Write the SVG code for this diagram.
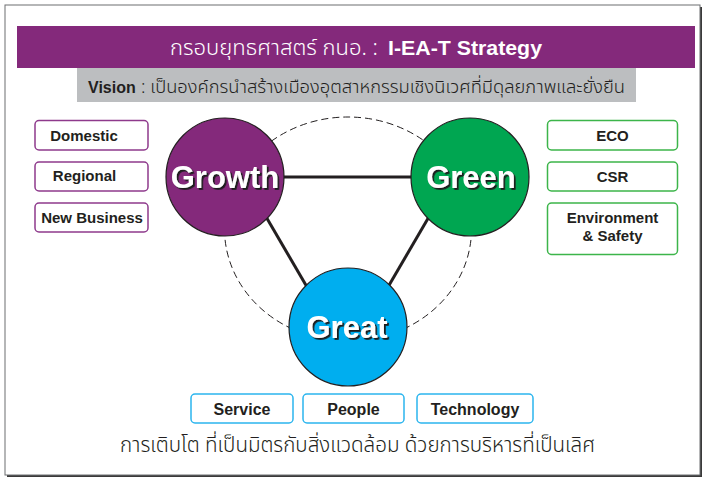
<svg xmlns="http://www.w3.org/2000/svg" width="705" height="483" viewBox="0 0 705 483">
  <style>
    .frame { fill: #ffffff; stroke: #6d6e71; stroke-width: 1; }
    .lbl { font-family: "Liberation Sans", Arial, sans-serif; font-weight: bold; font-size: 15px; fill: #231f20; text-anchor: middle; }
    .lbl16 { font-size: 16px; }
    .thai { font-family: "Noto Sans Thai", "Noto Sans", "DejaVu Sans", sans-serif; font-weight: 350; }
    .box-p { fill: #ffffff; stroke: #8e3a8c; stroke-width: 1.5; }
    .box-g { fill: #ffffff; stroke: #3cb54a; stroke-width: 1.5; }
    .box-b { fill: #ffffff; stroke: #2bb5ee; stroke-width: 1.5; }
    .hub { stroke: #231f20; stroke-width: 1.2; }
    .hubtxt { font-family: "Liberation Sans", Arial, sans-serif; font-weight: bold; font-size: 31px; fill: #ffffff; text-anchor: middle; filter: url(#shadow); }
    .link { stroke: #231f20; stroke-width: 3; fill: none; }
    .orbit { stroke: #231f20; stroke-width: 1; stroke-dasharray: 7 4; fill: none; }
  </style>
  <defs>
    <filter id="shadow" x="-10%" y="-20%" width="130%" height="150%">
      <feDropShadow dx="1.8" dy="1.8" stdDeviation="0.4" flood-color="#1a1a1a" flood-opacity="1"/>
    </filter>
  </defs>

  <!-- page frame with drop shadow on the bottom and right -->
  <rect x="7" y="7" width="695" height="470" fill="#3a3a3a"/>
  <rect class="frame" x="5" y="5" width="695" height="470"/>

  <!-- title banner -->
  <g id="title">
    <rect x="17" y="26" width="678" height="42" fill="#84297b"/>
    <text class="thai" x="170" y="55" font-size="21" fill="#ffffff" textLength="208" lengthAdjust="spacingAndGlyphs">กรอบยุทธศาสตร์ กนอ. :</text>
    <text x="388" y="55" font-family="Liberation Sans, Arial, sans-serif" font-weight="bold" font-size="20" fill="#ffffff" textLength="154" lengthAdjust="spacingAndGlyphs">I-EA-T Strategy</text>
  </g>

  <!-- vision bar -->
  <g id="vision">
    <rect x="77" y="68" width="559" height="34" fill="#bcbec0"/>
    <text x="88" y="93" font-family="Liberation Sans, Arial, sans-serif" font-weight="bold" font-size="16" fill="#231f20">Vision</text>
    <text class="thai" x="141" y="93" font-size="18" fill="#231f20" textLength="484" lengthAdjust="spacingAndGlyphs">: เป็นองค์กรนำสร้างเมืองอุตสาหกรรมเชิงนิเวศที่มีดุลยภาพและยั่งยืน</text>
  </g>

  <!-- connectors -->
  <g id="connectors">
    <ellipse class="orbit" cx="348" cy="229" rx="123.5" ry="112"/>
    <line class="link" x1="280" y1="177" x2="415" y2="177"/>
    <line class="link" x1="265" y1="215" x2="307" y2="287"/>
    <line class="link" x1="430" y1="215" x2="388" y2="287"/>
  </g>

  <!-- hubs -->
  <g id="growth">
    <circle class="hub" cx="225" cy="177" r="59" fill="#84297b"/>
    <text class="hubtxt" x="225" y="188">Growth</text>
  </g>
  <g id="green">
    <circle class="hub" cx="470" cy="177" r="59" fill="#00a651"/>
    <text class="hubtxt" x="471" y="188">Green</text>
  </g>
  <g id="great">
    <circle class="hub" cx="348" cy="327" r="59" fill="#00aeef"/>
    <text class="hubtxt" x="347" y="338">Great</text>
  </g>

  <!-- growth areas -->
  <g id="domestic">
    <rect class="box-p" x="35" y="120.5" width="113" height="29.5" rx="4"/>
    <text class="lbl" x="84" y="141">Domestic</text>
  </g>
  <g id="regional">
    <rect class="box-p" x="35" y="162" width="113" height="29" rx="4"/>
    <text class="lbl" x="84.5" y="181">Regional</text>
  </g>
  <g id="new-business">
    <rect class="box-p" x="35" y="203" width="113" height="29" rx="4"/>
    <text class="lbl" x="92" y="223">New Business</text>
  </g>

  <!-- green areas -->
  <g id="eco">
    <rect class="box-g" x="547.5" y="120.5" width="130" height="29.5" rx="4"/>
    <text class="lbl" x="612.5" y="141">ECO</text>
  </g>
  <g id="csr">
    <rect class="box-g" x="547.5" y="162" width="130" height="29" rx="4"/>
    <text class="lbl" x="612.5" y="182">CSR</text>
  </g>
  <g id="environment">
    <rect class="box-g" x="547.5" y="203" width="130" height="51.5" rx="4"/>
    <text class="lbl" x="612.5" y="223">Environment</text>
    <text class="lbl" x="612.5" y="241">&amp; Safety</text>
  </g>

  <!-- great areas -->
  <g id="service">
    <rect class="box-b" x="191" y="394" width="102" height="29" rx="4"/>
    <text class="lbl lbl16" x="242" y="415">Service</text>
  </g>
  <g id="people">
    <rect class="box-b" x="303" y="394" width="101" height="29" rx="4"/>
    <text class="lbl lbl16" x="353.5" y="415">People</text>
  </g>
  <g id="technology">
    <rect class="box-b" x="417" y="394" width="116" height="29" rx="4"/>
    <text class="lbl lbl16" x="475" y="415">Technology</text>
  </g>

  <!-- tagline -->
  <g id="tagline">
    <text class="thai" x="120" y="452" font-size="21" fill="#231f20" textLength="475" lengthAdjust="spacingAndGlyphs">การเติบโต ที่เป็นมิตรกับสิ่งแวดล้อม ด้วยการบริหารที่เป็นเลิศ</text>
  </g>
</svg>
